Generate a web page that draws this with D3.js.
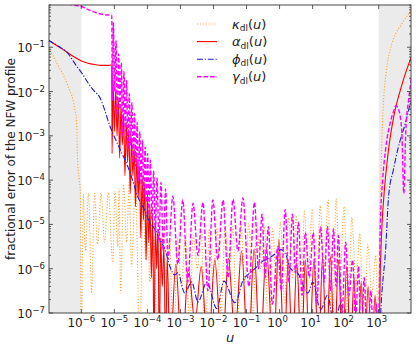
<!DOCTYPE html>
<html>
<head>
<meta charset="utf-8">
<script src="https://cdn.jsdelivr.net/npm/d3@7"></script>
<style>
  body { margin: 0; background: #fff; }
  svg { font-family: "DejaVu Sans", sans-serif; }
</style>
</head>
<body>
<svg id="chart" width="416" height="349"></svg>
<script>
// values, as [log10 u, log10 fractional error]
const kappaPts = [
  [-7.0,-1.02],[-6.85,-1.2],[-6.7,-1.42],[-6.55,-1.62],[-6.45,-1.78],[-6.35,-1.98],[-6.26,-2.16],
  [-6.2,-2.4],[-6.15,-2.6],[-6.11,-3.6],[-6.06,-4.0],[-6.03,-4.27],[-6.0,-8],
  [-5.94,-4.32],[-5.88,-5.6],[-5.78,-4.3],[-5.69,-6.55],[-5.60,-4.3],[-5.51,-5.45],[-5.40,-4.3],
  [-5.30,-5.4],[-5.18,-4.28],[-5.05,-5.86],[-4.98,-4.25],[-4.90,-5.5],[-4.86,-4.2],[-4.81,-6.55],
  [-4.72,-4.1],[-4.63,-5.4],[-4.55,-4.05],[-4.48,-5.95],[-4.36,-4.1],[-4.23,-8],[-4.14,-4.3],
  [-4.05,-5.8],[-3.99,-4.8],[-3.93,-6.3],[-3.81,-5.3],[-3.69,-8],[-3.57,-5.3],[-3.45,-6.1],
  [-3.33,-5.35],[-3.21,-8],[-3.09,-5.3],[-2.97,-6.4],[-2.85,-5.3],[-2.73,-7.3],[-2.61,-5.25],
  [-2.49,-6.0],[-2.37,-5.15],[-2.25,-8],[-2.13,-5.1],[-2.01,-6.2],[-1.89,-5.08],[-1.77,-7.0],
  [-1.65,-5.05],[-1.53,-6.1],[-1.41,-5.05],[-1.29,-8],[-1.17,-5.0],[-1.05,-6.3],[-0.93,-4.98],
  [-0.81,-7.2],[-0.69,-5.0],[-0.57,-6.0],[-0.45,-5.05],[-0.33,-8],[-0.21,-5.1],[-0.09,-6.4],
  [0.03,-4.95],[0.15,-6.8],[0.27,-4.85],[0.39,-6.2],[0.51,-4.8],[0.63,-8],[0.75,-4.7],
  [0.87,-6.1],[0.99,-4.65],[1.11,-6.9],[1.23,-4.58],[1.35,-6.0],[1.47,-4.45],[1.59,-8],
  [1.71,-4.42],[1.83,-6.3],[1.95,-4.6],[2.07,-7.1],[2.19,-4.85],[2.31,-6.4],[2.43,-5.2],
  [2.55,-8],[2.67,-5.45],[2.79,-6.6],[2.91,-5.7],[3.0,-8],
  [3.03,-5.0],[3.06,-4.1],[3.1,-3.0],[3.15,-2.16],[3.22,-1.6],[3.36,-1.02],[3.5,-0.72],
  [3.67,-0.5],[3.85,-0.3],[4.0,-0.15]
];

const alphaPts = [
  [-7.0,-0.84],[-6.8,-0.93],[-6.6,-1.03],[-6.45,-1.1],[-6.3,-1.18],[-6.15,-1.25],[-6.0,-1.31],
  [-5.8,-1.36],[-5.6,-1.39],[-5.4,-1.41],[-5.2,-1.41],[-5.1,-1.4],
  [-5.08,-1.4],[-5.07,-3.4],[-5.04,-1.75],[-5.0,-2.9],[-4.96,-1.95],[-4.92,-3.0],[-4.88,-2.15],
  [-4.84,-3.5],[-4.80,-2.3],[-4.76,-3.2],[-4.72,-2.5],[-4.68,-3.9],[-4.64,-2.7],[-4.60,-3.6],
  [-4.56,-2.85],[-4.52,-4.3],[-4.48,-3.05],[-4.44,-3.9],[-4.40,-3.25],[-4.36,-4.6],[-4.32,-3.45],
  [-4.28,-4.4],[-4.24,-3.7],[-4.20,-5.3],[-4.16,-3.9],[-4.12,-4.9],[-4.08,-4.05],[-4.04,-5.8],
  [-4.00,-4.3],[-3.96,-5.4],[-3.92,-4.6],[-3.88,-6.2],[-3.84,-4.75],[-3.80,-8],[-3.76,-4.95],
  [-3.72,-6.0],[-3.68,-5.1],[-3.64,-8],[-3.60,-5.3],[-3.55,-6.4],[-3.50,-5.5],[-3.45,-8],
  [-3.40,-5.75],[-3.32,-8],[-3.14,-5.9],[-2.96,-8],[-2.76,-6.02],[-2.56,-7.2],[-2.37,-5.95],
  [-2.17,-8],[-1.96,-5.8],[-1.74,-8],[-1.55,-5.77],[-1.35,-7.5],[-1.15,-5.6],[-0.95,-8],
  [-0.77,-5.55],[-0.59,-8],[-0.40,-5.52],[-0.19,-8],[-0.02,-5.34],[0.14,-8],[0.26,-5.8],
  [0.39,-8],[0.52,-5.86],[0.66,-8],[0.78,-5.8],[0.90,-8],[1.04,-5.78],[1.18,-8],[1.30,-5.73],
  [1.42,-8],[1.54,-5.72],[1.66,-8],[1.78,-5.8],[1.91,-8],[2.03,-5.95],[2.15,-8],[2.25,-6.18],
  [2.36,-8],[2.47,-6.3],[2.57,-8],[2.68,-6.4],[2.79,-8],[2.89,-6.6],[3.0,-8],
  [3.05,-6.0],[3.1,-5.0],[3.15,-4.43],[3.3,-3.3],[3.46,-2.55],[3.67,-1.93],[3.85,-1.5],[4.0,-1.2]
];

const phiPts = [
  [-7.0,-0.84],[-6.8,-0.93],[-6.6,-1.02],[-6.45,-1.1],[-6.3,-1.25],[-6.15,-1.42],[-5.97,-1.6],
  [-5.8,-1.8],[-5.62,-1.98],[-5.45,-2.12],[-5.3,-2.4],[-5.15,-2.75],[-5.0,-3.02],[-4.8,-3.35],
  [-4.6,-3.68],[-4.45,-4.0],[-4.3,-4.36],[-4.1,-4.65],[-3.93,-4.95],[-3.78,-5.1],[-3.63,-5.34],
  [-3.45,-5.6],[-3.32,-5.95],[-3.17,-6.14],[-3.08,-6.09],[-2.87,-6.55],[-2.66,-6.3],[-2.47,-6.75],
  [-2.2,-6.3],[-1.9,-6.9],[-1.68,-6.28],[-1.35,-6.77],[-1.1,-6.25],[-0.9,-6.1],[-0.75,-6.0],
  [-0.55,-5.85],[-0.3,-5.75],[-0.1,-5.65],[0.05,-5.57],[0.2,-5.7],[0.33,-6.0],[0.55,-6.1],
  [0.86,-6.55],[1.0,-6.3],[1.24,-6.93],[1.45,-6.6],[1.66,-7.3],[1.85,-6.77],[1.98,-7.5],
  [2.2,-7.6],[2.6,-7.8],[3.0,-7.6],[3.1,-6.5],[3.21,-5.57],[3.30,-4.36],[3.45,-3.75],
  [3.58,-3.3],[3.82,-2.68],[3.97,-2.23],[4.0,-2.16]
];

const gammaPts = [
  [-7.0,-0.01],[-6.7,-0.01],[-6.45,-0.02],[-6.2,-0.05],[-6.0,-0.08],[-5.85,-0.13],[-5.7,-0.18],
  [-5.55,-0.22],[-5.4,-0.25],[-5.2,-0.27],[-5.1,-0.27],
  [-5.08,-0.27],[-5.06,-2.2],[-5.03,-0.45],[-4.99,-2.0],[-4.95,-0.85],[-4.91,-2.6],[-4.87,-1.15],
  [-4.83,-2.4],[-4.79,-1.35],[-4.75,-3.0],[-4.71,-1.55],[-4.67,-2.9],[-4.63,-1.75],[-4.59,-3.3],
  [-4.55,-2.05],[-4.51,-3.2],[-4.47,-2.25],[-4.43,-3.6],[-4.39,-2.5],[-4.35,-3.7],[-4.31,-2.7],
  [-4.27,-4.0],[-4.23,-2.9],[-4.19,-4.1],[-4.15,-3.1],[-4.11,-4.4],[-4.07,-3.25],[-4.03,-4.5],
  [-3.99,-3.4],[-3.95,-4.8],[-3.91,-3.55],[-3.86,-4.9],[-3.81,-3.8],[-3.76,-5.2],[-3.71,-3.95],
  [-3.65,-5.4],[-3.59,-4.05],[-3.52,-5.6],[-3.45,-4.2],[-3.38,-5.8],
  [-3.23,-4.36],[-3.08,-5.9],[-2.93,-4.45],[-2.78,-6.3],[-2.62,-4.52],[-2.47,-5.7],[-2.32,-4.5],
  [-2.17,-6.5],[-2.02,-4.45],[-1.87,-5.8],[-1.71,-4.45],[-1.56,-6.2],[-1.41,-4.43],[-1.26,-5.6],
  [-1.11,-4.4],[-0.93,-6.4],[-0.76,-4.5],[-0.64,-6.0],[-0.53,-4.77],[-0.44,-6.2],[-0.34,-5.05],
  [-0.22,-6.8],[-0.05,-5.5],[0.05,-6.5],[0.17,-4.66],[0.28,-6.3],[0.39,-4.77],[0.48,-6.1],
  [0.57,-4.95],[0.68,-6.6],[0.78,-5.18],[0.9,-6.2],[1.02,-5.18],[1.13,-6.8],[1.24,-5.05],
  [1.35,-6.3],[1.45,-5.05],[1.54,-6.5],[1.63,-5.1],[1.71,-6.4],[1.78,-5.25],[1.89,-7.0],
  [2.0,-5.4],[2.1,-6.6],[2.21,-5.8],[2.3,-7.2],[2.39,-5.95],[2.47,-8],[2.56,-6.2],[2.66,-8],
  [2.76,-6.5],[2.86,-8],[2.93,-6.8],[2.98,-8],
  [3.05,-5.0],[3.12,-4.0],[3.21,-3.3],[3.35,-2.7],[3.45,-2.45],[3.52,-2.32],[3.6,-2.4],
  [3.7,-2.9],[3.76,-4.3],[3.82,-2.9],[3.91,-2.16],[4.0,-1.64]
];

const seriesSymbols = ["κ", "α", "ϕ", "γ"];
const xTickExps = [-6, -5, -4, -3, -2, -1, 0, 1, 2, 3];
const yTickExps = [-7, -6, -5, -4, -3, -2, -1];
const shadedRanges = [[1e-8, 1e-6], [1e3, 1e5]];

const width = 416, height = 349;
const margin = { top: 5, right: 5, bottom: 36, left: 49 };
const plotW = width - margin.left - margin.right;
const plotH = height - margin.top - margin.bottom;

const svg = d3.select('#chart');
const g = svg.append('g').attr('transform', `translate(${margin.left},${margin.top})`);

const x = d3.scaleLog().domain([1.05e-7, 9.5e3]).range([0, plotW]);
const y = d3.scaleLog().domain([1e-7, 0.9]).range([plotH, 0]);

g.append('clipPath').attr('id', 'clip')
  .append('rect').attr('width', plotW).attr('height', plotH);

const plot = g.append('g').attr('clip-path', 'url(#clip)');

// grey bands where the approximation is not used
shadedRanges.forEach(([a, b]) => {
  const x0 = Math.max(0, x(a)), x1 = Math.min(plotW, x(b));
  plot.append('rect')
    .attr('x', x0).attr('y', 0)
    .attr('width', x1 - x0).attr('height', plotH)
    .attr('fill', '#ebebeb');
});

const series = [
  { pts: kappaPts, color: '#ffa033', width: 1.1, dash: '1.1,1.8' },
  { pts: alphaPts, color: '#ff0000', width: 1.1, dash: null },
  { pts: phiPts, color: '#1a1ad6', width: 1.1, dash: '6,1.8,1.2,1.8' },
  { pts: gammaPts, color: '#ff00ff', width: 1.4, dash: '4.5,2' }
];

const line = d3.line()
  .x(d => x(Math.pow(10, d[0])))
  .y(d => y(Math.pow(10, d[1])))
  .curve(d3.curveMonotoneX);

series.forEach(s => {
  plot.append('path')
    .datum(s.pts)
    .attr('d', line)
    .attr('fill', 'none')
    .attr('stroke', s.color)
    .attr('stroke-width', s.width)
    .attr('stroke-dasharray', s.dash);
});

// frame
g.append('rect')
  .attr('width', plotW).attr('height', plotH)
  .attr('fill', 'none').attr('stroke', '#333').attr('stroke-width', 0.9);

// inward ticks on all four sides
const ticks = g.append('g').attr('stroke', '#333').attr('stroke-width', 0.8);
xTickExps.forEach(e => {
  const px = x(Math.pow(10, e));
  ticks.append('line').attr('x1', px).attr('x2', px).attr('y1', plotH).attr('y2', plotH - 4);
  ticks.append('line').attr('x1', px).attr('x2', px).attr('y1', 0).attr('y2', 4);
});
yTickExps.forEach(e => {
  for (let m = 1; m <= 9; m++) {
    const v = m * Math.pow(10, e);
    if (v > 0.9) continue;
    const py = y(v);
    const len = m === 1 ? 4 : 2;
    ticks.append('line').attr('x1', 0).attr('x2', len).attr('y1', py).attr('y2', py);
    ticks.append('line').attr('x1', plotW).attr('x2', plotW - len).attr('y1', py).attr('y2', py);
  }
});

function powerLabel(sel, e) {
  sel.append('tspan').text('10');
  sel.append('tspan').attr('dy', -5).attr('font-size', 8.5).text('\u2212' + Math.abs(e));
}

xTickExps.forEach(e => {
  const t = g.append('text')
    .attr('x', x(Math.pow(10, e)) + (e < 0 ? 0 : -2))
    .attr('y', plotH + 14)
    .attr('text-anchor', 'middle')
    .attr('font-size', 12)
    .attr('fill', '#222');
  if (e === 0) {
    t.append('tspan').text('10');
    t.append('tspan').attr('dy', -5).attr('font-size', 8.5).text('0');
  } else if (e > 0) {
    t.append('tspan').text('10');
    t.append('tspan').attr('dy', -5).attr('font-size', 8.5).text(String(e));
  } else {
    powerLabel(t, e);
  }
});

yTickExps.forEach(e => {
  const t = g.append('text')
    .attr('x', -4)
    .attr('y', y(Math.pow(10, e)) + 5)
    .attr('text-anchor', 'end')
    .attr('font-size', 12)
    .attr('fill', '#222');
  powerLabel(t, e);
});

// axis labels
svg.append('text')
  .attr('x', margin.left + plotW / 2)
  .attr('y', 342)
  .attr('text-anchor', 'middle')
  .attr('font-size', 13)
  .attr('font-style', 'italic')
  .attr('fill', '#222')
  .text('u');

svg.append('text')
  .attr('transform', `translate(15,${margin.top + plotH / 2}) rotate(-90)`)
  .attr('text-anchor', 'middle')
  .attr('font-size', 12)
  .attr('fill', '#222')
  .text('fractional error of the NFW profile');

// legend
const legend = svg.append('g').attr('transform', 'translate(197,24)');
series.forEach((s, i) => {
  const row = legend.append('g').attr('transform', `translate(0,${i * 17.6})`);
  row.append('line')
    .attr('x1', 0).attr('x2', 20).attr('y1', 0).attr('y2', 0)
    .attr('stroke', s.color)
    .attr('stroke-width', s.width)
    .attr('stroke-dasharray', s.dash);
  const t = row.append('text')
    .attr('x', 35).attr('y', 4.5)
    .attr('font-size', 13)
    .attr('fill', '#222');
  t.append('tspan').attr('font-style', 'italic').text(seriesSymbols[i]);
  t.append('tspan').attr('font-size', 9).attr('dy', 2.5).text('dl');
  t.append('tspan').attr('dy', -2.5).text('(');
  t.append('tspan').attr('font-style', 'italic').text('u');
  t.append('tspan').text(')');
});
</script>
</body>
</html>
